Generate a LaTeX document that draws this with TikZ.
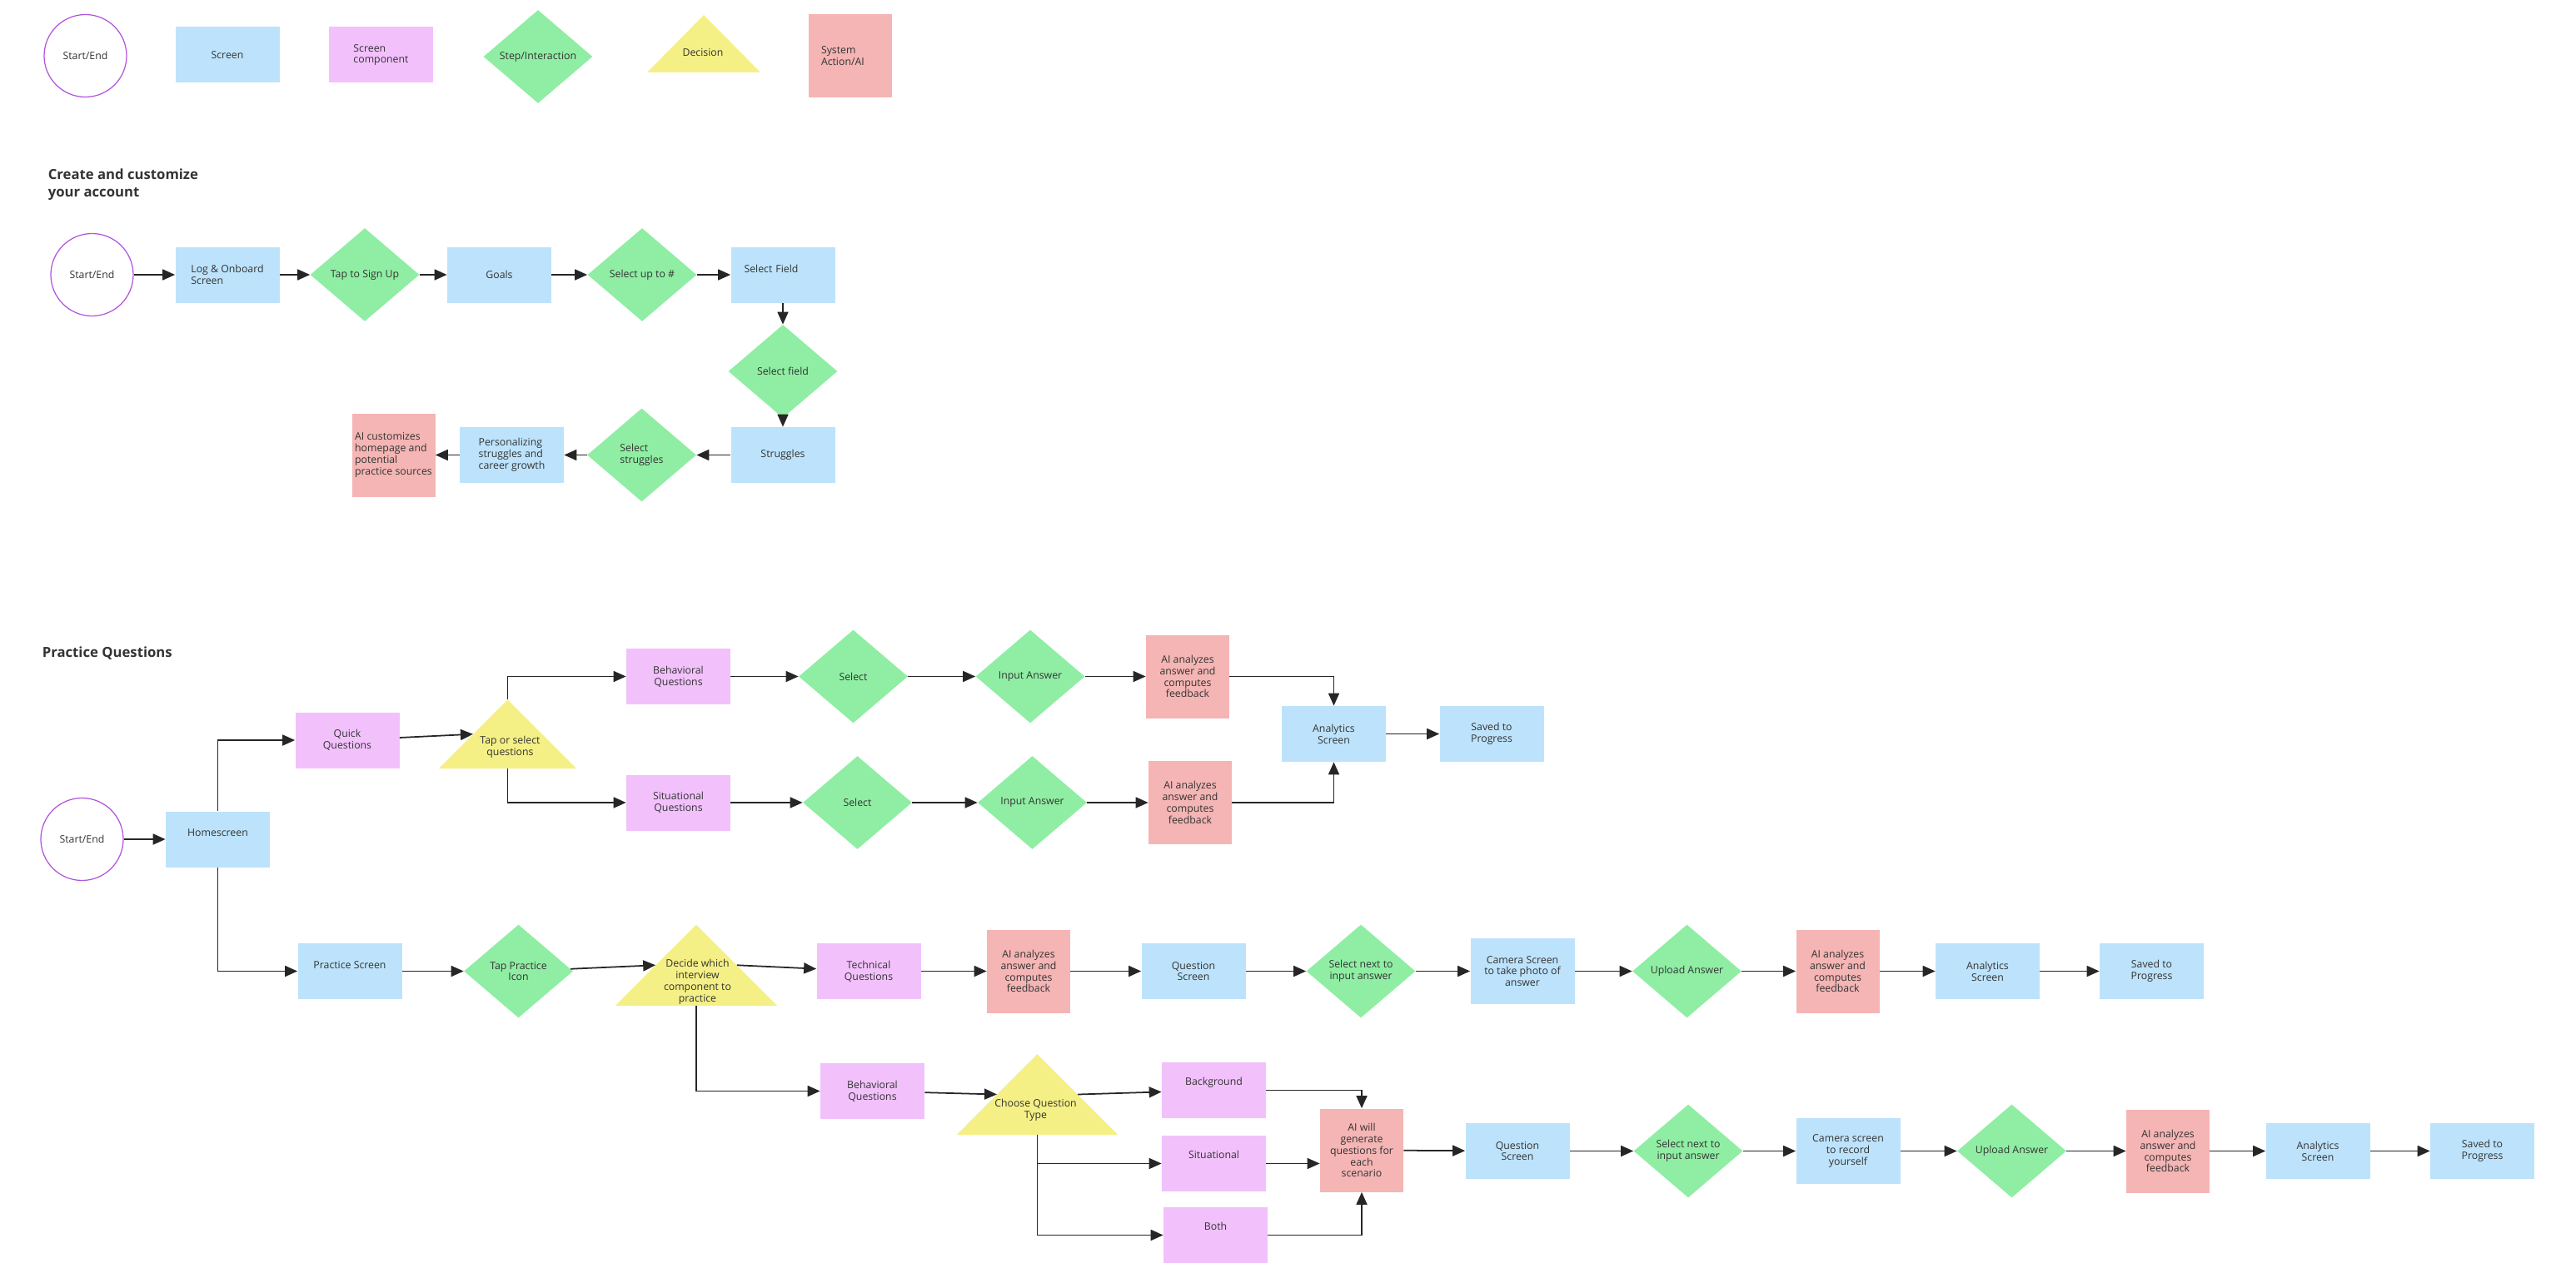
\documentclass[tikz,border=0pt]{standalone}
\usepackage{fontspec}
\setmainfont{Open Sans}
\usetikzlibrary{arrows.meta,shapes.geometric,calc}
\definecolor{scrblue}{RGB}{189,227,252}
\definecolor{comppink}{RGB}{242,193,252}
\definecolor{stepgreen}{RGB}{143,238,163}
\definecolor{decyellow}{RGB}{245,240,134}
\definecolor{aired}{RGB}{244,181,180}
\definecolor{startpurple}{RGB}{178,84,222}
\definecolor{inkgray}{RGB}{51,51,51}
\definecolor{linegray}{RGB}{38,38,38}

\begin{document}
\begin{tikzpicture}[
        >={Triangle[length=0.3cm,width=0.26cm]},
        every node/.style={font=\fontsize{7}{7.9}\selectfont, text=inkgray},
        startend/.style={circle, draw=startpurple, line width=0.7pt, fill=white,
                         minimum size=1.98cm, inner sep=0pt},
        screen/.style={fill=scrblue, minimum width=2.5cm, minimum height=1.34cm,
                       align=center, inner sep=1pt},
        comp/.style={fill=comppink, minimum width=2.5cm, minimum height=1.34cm,
                     align=center, inner sep=1pt},
        stepdia/.style={diamond, aspect=1.2, fill=stepgreen, minimum width=2.62cm,
                        minimum height=2.24cm, inner sep=0pt, align=center},
        decision/.style={rectangle, inner sep=0pt,
                         path picture={\fill[decyellow] (path picture bounding box.south west)
                           -- (path picture bounding box.south east)
                           -- (path picture bounding box.north) -- cycle;}},
        dectext/.style={align=center, inner sep=0pt},
        sysai/.style={fill=aired, minimum width=2cm, minimum height=2cm,
                      align=center, inner sep=1pt},
        lift/.style={text depth=#1},
        heading/.style={font=\bfseries\fontsize{9.5}{12}\selectfont, align=left,
                        anchor=west, inner sep=0pt},
        arr/.style={->, line width=1pt, draw=linegray}
      ]
        \useasboundingbox (0,0) rectangle (61.86,-30.57);

        \node[startend] (lgstart) at (2.05,-1.34) {Start/End};
        \node[screen] (lgscreen) at (5.46,-1.32) {Screen};
        \node[comp, align=left] (lgcomp) at (9.15,-1.32) {Screen\\component};
        \node[stepdia] (lgstep) at (12.92,-1.36) {Step/Interaction};
        \node[decision, minimum width=2.72cm, minimum height=1.38cm] (lgdec) at (16.90,-1.05) {};
        \node[dectext] (lgdectxt) at (16.88,-1.27) {Decision};
        \node[sysai, text width=1.4cm, align=left] (lgsys) at (20.42,-1.34) {System\\Action/AI};

        \node[heading] (acct) at (1.15,-4.43) {Create and customize\\your account};
        \node[startend] (start1) at (2.21,-6.60) {Start/End};
        \node[screen, align=left] (logon) at (5.46,-6.60) {Log \& Onboard\\Screen};
        \node[stepdia] (signup) at (8.76,-6.60) {Tap to Sign Up};
        \node[screen] (goals) at (11.99,-6.60) {Goals};
        \node[stepdia] (upto) at (15.42,-6.60) {Select up to \#};
        \node[screen, lift=0.3cm, text width=1.86cm, align=left] (selfield) at (18.80,-6.60) {Select Field};
        \node[stepdia] (fieldstep) at (18.80,-8.92) {Select field};
        \node[screen] (struggles) at (18.80,-10.93) {Struggles};
        \node[stepdia, align=left] (strugstep) at (15.41,-10.93) {Select\\struggles};
        \node[screen, align=left] (personal) at (12.29,-10.93) {Personalizing\\struggles and\\career growth};
        \node[sysai, align=left] (aicustom) at (9.45,-10.93) {AI customizes\\homepage and\\potential\\practice sources};

        \draw[arr] (start1) -- (logon);
        \draw[arr] (logon) -- (signup);
        \draw[arr] (signup) -- (goals);
        \draw[arr] (goals) -- (upto);
        \draw[arr] (upto) -- (selfield);
        \draw[arr] (selfield) -- (fieldstep);
        \draw[arr] (fieldstep) -- (struggles);
        \draw[arr] (struggles) -- (strugstep);
        \draw[arr] (strugstep) -- (personal);
        \draw[arr] (personal) -- (aicustom);

        \node[heading] (practq) at (1.01,-15.70) {Practice Questions};
        \node[startend] (start2) at (1.97,-20.16) {Start/End};
        \node[screen, lift=0.3cm] (home) at (5.23,-20.16) {Homescreen};
        \node[comp] (quick) at (8.34,-17.78) {Quick\\Questions};
        \node[decision, minimum width=3.31cm, minimum height=1.65cm] (tapsel) at (12.19,-17.635) {};
        \node[dectext] (tapseltxt) at (12.25,-17.95) {Tap or select\\questions};
        \node[comp] (behav1) at (16.29,-16.25) {Behavioral\\Questions};
        \node[comp] (situ1) at (16.29,-19.28) {Situational\\Questions};
        \node[stepdia] (select1) at (20.49,-16.25) {Select};
        \node[stepdia] (input1) at (24.74,-16.25) {Input Answer};
        \node[sysai] (aian1) at (28.52,-16.25) {AI analyzes\\answer and\\computes\\feedback};
        \node[stepdia] (select2) at (20.59,-19.28) {Select};
        \node[stepdia] (input2) at (24.79,-19.28) {Input Answer};
        \node[sysai] (aian2) at (28.58,-19.28) {AI analyzes\\answer and\\computes\\feedback};
        \node[screen] (analyt1) at (32.03,-17.63) {Analytics\\Screen};
        \node[screen] (saved1) at (35.82,-17.63) {Saved to\\Progress};

        \node[screen, lift=0.3cm] (practice) at (8.40,-23.33) {Practice Screen};
        \node[stepdia] (tapicon) at (12.45,-23.33) {Tap Practice\\Icon};
        \node[decision, minimum width=3.89cm, minimum height=1.95cm] (decide) at (16.72,-23.185) {};
        \node[dectext] (decidetxt) at (16.75,-23.59) {Decide which\\interview\\component to\\practice};
        \node[comp] (tech) at (20.86,-23.33) {Technical\\Questions};
        \node[sysai] (aian3) at (24.70,-23.33) {AI analyzes\\answer and\\computes\\feedback};
        \node[screen] (qscreen1) at (28.66,-23.33) {Question\\Screen};
        \node[stepdia] (selnext1) at (32.68,-23.33) {Select next to\\input answer};
        \node[screen, minimum height=1.58cm] (camera1) at (36.56,-23.33) {Camera Screen\\to take photo of\\answer};
        \node[stepdia] (upload1) at (40.51,-23.33) {Upload Answer};
        \node[sysai] (aian4) at (44.13,-23.33) {AI analyzes\\answer and\\computes\\feedback};
        \node[screen] (analyt2) at (47.73,-23.33) {Analytics\\Screen};
        \node[screen] (saved2) at (51.67,-23.33) {Saved to\\Progress};

        \node[comp] (behav2) at (20.95,-26.21) {Behavioral\\Questions};
        \node[decision, minimum width=3.87cm, minimum height=1.94cm] (choose) at (24.91,-26.29) {};
        \node[dectext] (choosetxt) at (24.87,-26.67) {Choose Question\\Type};
        \node[comp, lift=0.42cm] (backgr) at (29.15,-26.19) {Background};
        \node[comp, lift=0.42cm] (situ2) at (29.15,-27.95) {Situational};
        \node[comp, lift=0.42cm] (both) at (29.19,-29.67) {Both};
        \node[sysai] (aigen) at (32.70,-27.63) {AI will\\generate\\questions for\\each\\scenario};
        \node[screen] (qscreen2) at (36.44,-27.65) {Question\\Screen};
        \node[stepdia] (selnext2) at (40.54,-27.65) {Select next to\\input answer};
        \node[screen, minimum height=1.58cm] (camera2) at (44.38,-27.65) {Camera screen\\to record\\yourself};
        \node[stepdia] (upload2) at (48.31,-27.65) {Upload Answer};
        \node[sysai] (aian5) at (52.06,-27.65) {AI analyzes\\answer and\\computes\\feedback};
        \node[screen] (analyt3) at (55.66,-27.65) {Analytics\\Screen};
        \node[screen] (saved3) at (59.61,-27.65) {Saved to\\Progress};

        \coordinate (tapselL) at ($(tapsel.south west)!0.5!(tapsel.north)$);
        \coordinate (decideL) at ($(decide.south west)!0.5!(decide.north)$);
        \coordinate (decideR) at ($(decide.south east)!0.5!(decide.north)$);
        \coordinate (chooseL) at ($(choose.south west)!0.5!(choose.north)$);
        \coordinate (chooseR) at ($(choose.south east)!0.5!(choose.north)$);

        \draw[arr] (start2) -- (home);
        \draw[arr] (home.north) |- (quick);
        \draw[arr] (quick) -- (tapselL);
        \draw[arr] (tapsel.north) |- (behav1);
        \draw[arr] (tapsel.south) |- (situ1);
        \draw[arr] (behav1) -- (select1);
        \draw[arr] (select1) -- (input1);
        \draw[arr] (input1) -- (aian1);
        \draw[arr] (situ1) -- (select2);
        \draw[arr] (select2) -- (input2);
        \draw[arr] (input2) -- (aian2);
        \draw[arr] (aian1) -| (analyt1);
        \draw[arr] (aian2) -| (analyt1);
        \draw[arr] (analyt1) -- (saved1);

        \draw[arr] (home.south) |- (practice);
        \draw[arr] (practice) -- (tapicon);
        \draw[arr] (tapicon) -- (decideL);
        \draw[arr] (decideR) -- (tech);
        \draw[arr] (tech) -- (aian3);
        \draw[arr] (aian3) -- (qscreen1);
        \draw[arr] (qscreen1) -- (selnext1);
        \draw[arr] (selnext1) -- (camera1);
        \draw[arr] (camera1) -- (upload1);
        \draw[arr] (upload1) -- (aian4);
        \draw[arr] (aian4) -- (analyt2);
        \draw[arr] (analyt2) -- (saved2);

        \draw[arr] (decide.south) |- (behav2);
        \draw[arr] (behav2) -- (chooseL);
        \draw[arr] (chooseR) -- (backgr);
        \draw[arr] (choose.south) |- (situ2);
        \draw[arr] (choose.south) |- (both);
        \draw[arr] (backgr) -| (aigen);
        \draw[arr] (situ2) -- (situ2 -| aigen.west);
        \draw[arr] (both) -| (aigen);
        \draw[arr] (aigen) -- (qscreen2);
        \draw[arr] (qscreen2) -- (selnext2);
        \draw[arr] (selnext2) -- (camera2);
        \draw[arr] (camera2) -- (upload2);
        \draw[arr] (upload2) -- (aian5);
        \draw[arr] (aian5) -- (analyt3);
        \draw[arr] (analyt3) -- (saved3);
      \end{tikzpicture}
\end{document}
